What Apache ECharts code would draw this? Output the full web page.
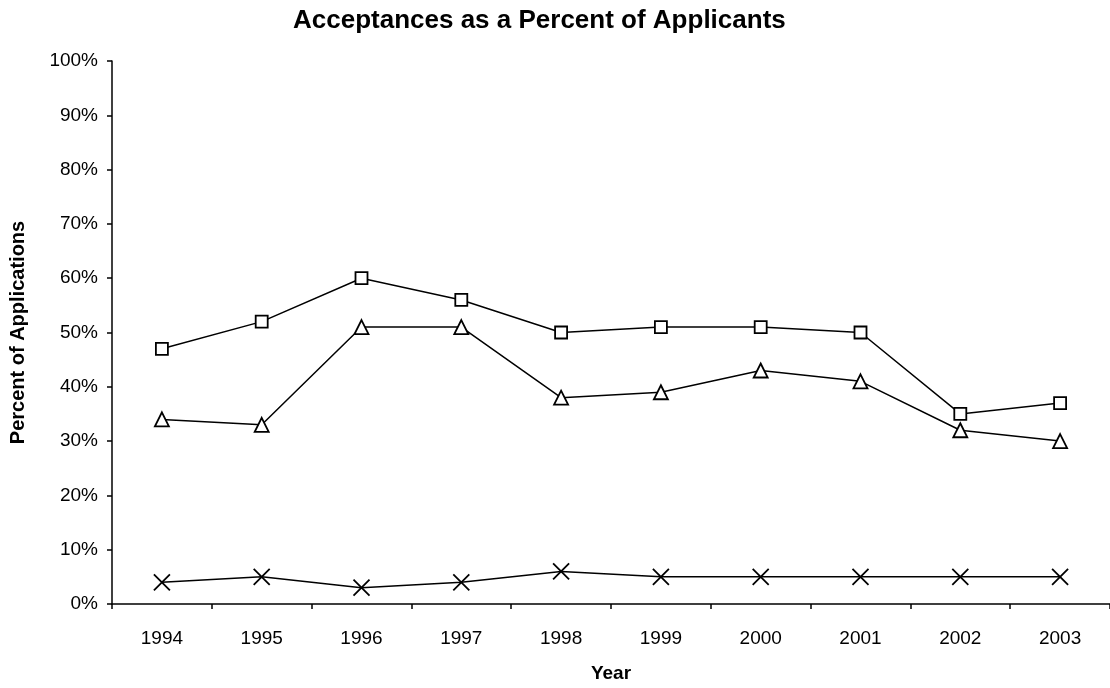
<!DOCTYPE html>
<html>
<head>
<meta charset="utf-8">
<title>Acceptances as a Percent of Applicants</title>
<script src="https://cdn.jsdelivr.net/npm/echarts@6/dist/echarts.min.js"></script>
<style>
  html, body { margin: 0; padding: 0; background: #fff; }
  #chart { width: 1110px; height: 688px; }
</style>
</head>
<body>
<div id="chart"></div>
<script>
// Years on the category axis
const years = ['1994', '1995', '1996', '1997', '1998', '1999', '2000', '2001', '2002', '2003'];

// Acceptance rates (percent) for the three applicant groups
const squareSeries = [47, 52, 60, 56, 50, 51, 51, 50, 35, 37];
const triangleSeries = [34, 33, 51, 51, 38, 39, 43, 41, 32, 30];
const crossSeries = [4, 5, 3, 4, 6, 5, 5, 5, 5, 5];

// Percent axis range and step
const yMin = 0;
const yMax = 100;
const yStep = 10;

const FONT = '"Liberation Sans", Arial, sans-serif';
const INK = '#000';

const chart = echarts.init(document.getElementById('chart'), null, { renderer: 'canvas' });

function lineSeries(data, symbol, size) {
  return {
    type: 'line',
    data: data,
    symbol: symbol,
    symbolSize: size,
    showAllSymbol: true,
    lineStyle: { color: INK, width: 1.5 },
    itemStyle: { color: '#fff', borderColor: INK, borderWidth: 1.8 },
    emphasis: { disabled: true }
  };
}

chart.setOption({
  animation: false,
  backgroundColor: '#fff',
  title: {
    text: 'Acceptances as a Percent of Applicants',
    left: 288,
    top: 3,
    textStyle: { fontFamily: FONT, fontSize: 26, fontWeight: 'bold', color: INK }
  },
  grid: { left: 111, top: 61, width: 1007, height: 548, containLabel: false },
  xAxis: {
    type: 'category',
    data: years,
    boundaryGap: true,
    name: 'Year',
    nameLocation: 'middle',
    nameGap: 60,
    nameTextStyle: { fontFamily: FONT, fontSize: 19, fontWeight: 'bold', color: INK },
    axisLine: { lineStyle: { color: INK, width: 1.5 } },
    axisTick: { show: true, length: 5, alignWithLabel: false, lineStyle: { color: INK, width: 1.5 } },
    axisLabel: { fontFamily: FONT, fontSize: 19, color: INK, margin: 25 },
    splitLine: { show: false }
  },
  yAxis: {
    type: 'value',
    min: yMin,
    max: yMax,
    interval: yStep,
    name: 'Percent of Applications',
    nameLocation: 'middle',
    nameGap: 84,
    nameRotate: 90,
    nameTextStyle: { fontFamily: FONT, fontSize: 20, fontWeight: 'bold', color: INK, padding: [0, 0, 0, 0] },
    axisLine: { show: true, lineStyle: { color: INK, width: 1.5 } },
    axisTick: { show: true, length: 5, lineStyle: { color: INK, width: 1.5 } },
    axisLabel: {
      fontFamily: FONT, fontSize: 19, color: INK, margin: 14,
      formatter: '{value}%'
    },
    splitLine: { show: false }
  },
  series: [
    lineSeries(squareSeries, 'rect', 12),
    lineSeries(triangleSeries, 'triangle', 14),
    lineSeries(crossSeries, 'path://M0,0L10,10M10,0L0,10', 16)
  ]
});
</script>
</body>
</html>
